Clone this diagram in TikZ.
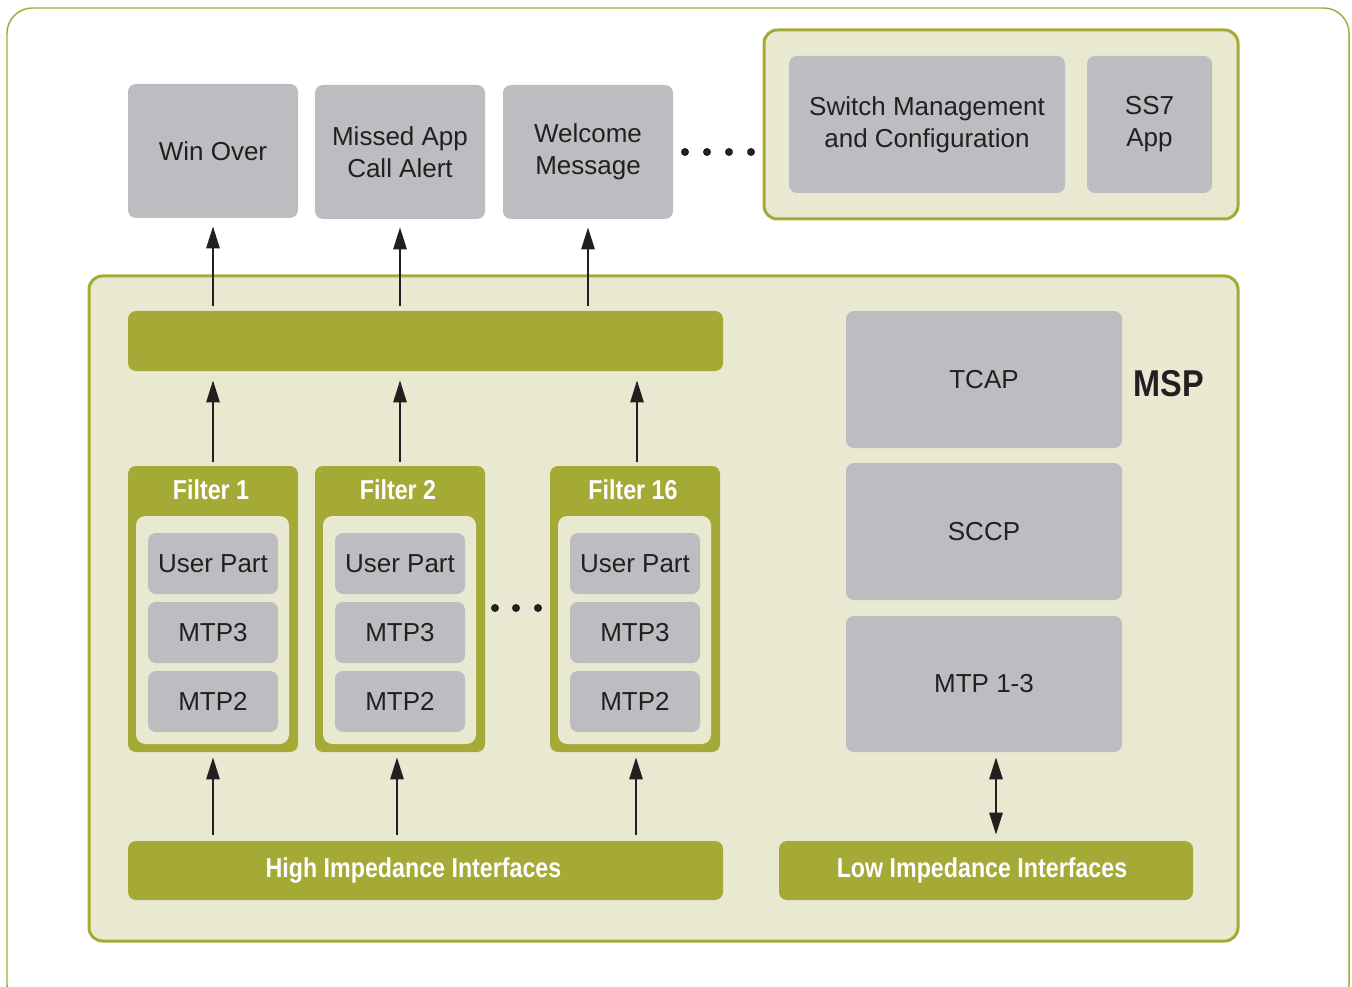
\documentclass[tikz,border=0pt]{standalone}
\usepackage{fontspec}
\setmainfont{Liberation Sans}
\newfontfamily\condb[FakeStretch=0.85]{Liberation Sans Bold}
\newfontfamily\condm[FakeStretch=0.87]{Liberation Sans Bold}
\usetikzlibrary{arrows.meta}
\definecolor{olive}{HTML}{A5AA37}
\definecolor{lightbg}{HTML}{E8E9D0}
\definecolor{boxgray}{HTML}{BCBDC0}
\definecolor{ink}{HTML}{231F20}
\tikzset{
  sz/.style n args={2}{minimum width=#1*0.75pt, minimum height=#2*0.75pt, inner sep=0pt},
  gbox/.style={fill=boxgray, rounded corners=6pt, text=ink, align=center,
    font=\fontsize{19.5}{24}\selectfont},
  obar/.style={fill=olive, rounded corners=6pt, text=white, align=center,
    font=\condb\fontsize{20.5}{24}\selectfont},
  cont/.style={fill=lightbg, draw=olive, line width=2.25pt, rounded corners=10pt},
  fouter/.style={fill=olive, rounded corners=6pt},
  finner/.style={fill=lightbg, rounded corners=7pt},
  ftitle/.style={text=white, font=\condb\fontsize{20.5}{24}\selectfont},
  arr/.style={draw=ink, line width=2pt, -{Triangle[length=16.5pt,width=9.75pt]}},
  darr/.style={draw=ink, line width=2pt, {Triangle[length=16.5pt,width=9.75pt]}-{Triangle[length=16.5pt,width=9.75pt]}},
  dot/.style={circle, fill=ink, inner sep=0pt, minimum size=6pt}
}
\begin{document}
\begin{tikzpicture}[x=0.75pt,y=-0.75pt]
\useasboundingbox (0,0) rectangle (1352,987);
\begin{scope}
\clip (0,0) rectangle (1352,987);
\draw[olive, line width=1.1pt, rounded corners=19pt] (7,8) rectangle (1349,1010);
\end{scope}

% top application boxes
\node[gbox, sz={170}{134}] (win) at (213,151) {Win Over};
\node[gbox, sz={170}{134}] (missed) at (400,152) {Missed App\\Call Alert};
\node[gbox, sz={170}{134}] (welcome) at (588,152) {Welcome\\Message};
\node[dot] (d1) at (685,152) {};
\node[dot] (d2) at (707,152) {};
\node[dot] (d3) at (729,152) {};
\node[dot] (d4) at (751,152) {};

% top right container
\node[cont, sz={474}{189}] (topc) at (1001,124.5) {};
\node[gbox, sz={276}{137}] (swm) at (927,124.5) {Switch Management\\and Configuration};
\node[gbox, sz={125}{137}] (ss7) at (1149.5,124.5) {SS7\\App};

% MSP container
\node[cont, sz={1149}{665}] (msp) at (663.5,608.5) {};
\node[text=ink, font=\condm\fontsize{28}{32}\selectfont, inner sep=0pt] (msplabel) at (1169,384) {MSP};

% green bar
\node[obar, sz={595}{60}] (bar) at (425.5,341) {};

% filters
\foreach \nm/\cx/\title in {f1/213/Filter 1, f2/400/Filter 2, f16/635/Filter 16}{
  \node[fouter, sz={170}{286}] (\nm) at (\cx,609) {};
  \node[ftitle] (\nm t) at (\cx-2,490) {\title};
  \node[finner, sz={153}{228}] (\nm i) at (\cx-0.5,630) {};
  \node[gbox, sz={130}{61}] (\nm u) at (\cx,563.5) {User Part};
  \node[gbox, sz={130}{61}] (\nm m3) at (\cx,632.5) {MTP3};
  \node[gbox, sz={130}{61}] (\nm m2) at (\cx,701.5) {MTP2};
}
\node[dot] (e1) at (495,608) {};
\node[dot] (e2) at (516,608) {};
\node[dot] (e3) at (538,608) {};

% right stack
\node[gbox, sz={276}{137}] (tcap) at (984,379.5) {TCAP};
\node[gbox, sz={276}{137}] (sccp) at (984,531.5) {SCCP};
\node[gbox, sz={276}{136}] (mtp) at (984,684) {MTP 1-3};

% interface bars
\node[obar, sz={595}{59}] (high) at (425.5,870.5) {\hspace*{-18pt}High Impedance Interfaces};
\node[obar, sz={414}{59}] (low) at (986,870.5) {\hspace*{-6pt}Low Impedance Interfaces};

% arrows bar -> apps
\draw[arr, shorten <=3.75pt, shorten >=6pt] (bar.north -| win.south) -- (win.south);
\draw[arr, shorten <=3.75pt, shorten >=6pt] (bar.north -| missed.south) -- (missed.south);
\draw[arr, shorten <=3.75pt, shorten >=6pt] (bar.north -| welcome.south) -- (welcome.south);
% arrows filters -> bar
\draw[arr, shorten <=3pt, shorten >=6.75pt] (f1.north) -- (f1.north |- bar.south);
\draw[arr, shorten <=3pt, shorten >=6.75pt] (f2.north) -- (f2.north |- bar.south);
\draw[arr, shorten <=3pt, shorten >=6.75pt] ([xshift=1.5pt]f16.north) -- ([xshift=1.5pt]f16.north |- bar.south);
% arrows interfaces -> filters
\draw[arr, shorten <=4.5pt, shorten >=3.75pt] (high.north -| f1.south) -- (f1.south);
\draw[arr, shorten <=4.5pt, shorten >=3.75pt] ([xshift=-2.25pt]high.north -| f2.south) -- ([xshift=-2.25pt]f2.south);
\draw[arr, shorten <=4.5pt, shorten >=3.75pt] ([xshift=0.75pt]high.north -| f16.south) -- ([xshift=0.75pt]f16.south);
% double arrow
\draw[darr, shorten <=3.75pt, shorten >=4.5pt] ([xshift=9pt]mtp.south) -- ([xshift=9pt]mtp.south |- low.north);
\end{tikzpicture}
\end{document}
